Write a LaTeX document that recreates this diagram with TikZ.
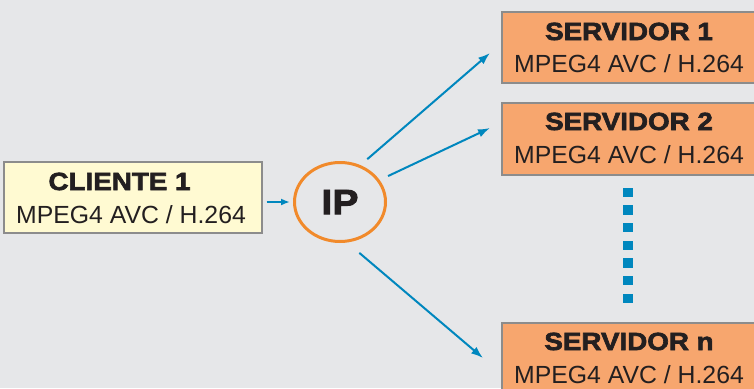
\documentclass[tikz,border=0pt]{standalone}
\usepackage{fontspec}
\setmainfont{Liberation Sans}
\newfontfamily\headfont[FakeStretch=1.12,FakeBold=2.6]{Liberation Sans Bold}
\usetikzlibrary{arrows.meta}
\usetikzlibrary{shapes.geometric}
\definecolor{bg}{RGB}{230,231,233}
\definecolor{client-fill}{RGB}{255,250,210}
\definecolor{server-fill}{RGB}{247,166,110}
\definecolor{frame}{RGB}{140,140,140}
\definecolor{ring}{RGB}{241,138,43}
\definecolor{link}{RGB}{0,135,190}
\definecolor{ink}{RGB}{35,31,32}

\begin{document}
\begin{tikzpicture}[x=1pt, y=-1pt, >={Latex[length=12pt,width=8.5pt]},
  box/.style={rectangle, draw=frame, line width=1.3pt, minimum height=71pt, inner sep=0pt},
  title/.style={anchor=base, text=ink, font=\headfont\fontsize{24.8}{30}\selectfont},
  codec/.style={anchor=base, text=ink, font=\fontsize{24.8}{30}\selectfont},
  flow/.style={->, draw=link, line width=2pt}]

\clip (0,0) rectangle (754,388);
\fill [bg] (0,0) rectangle (754,388);

% client
\node [box, fill=client-fill, minimum width=258pt] (cliente) at (133,197.5) {};
\node [title] (cliente-title) at (119.5,190) {CLIENTE 1};
\node [codec] (cliente-codec) at (131,223) {MPEG4 AVC / H.264};

% servers
\node [box, fill=server-fill, minimum width=254pt] (srv1) at (629,47.5) {};
\node [title] (srv1-title) at (629,40) {SERVIDOR 1};
\node [codec] (srv1-codec) at (629,72) {MPEG4 AVC / H.264};

\node [box, fill=server-fill, minimum width=254pt, minimum height=72pt] (srv2) at (629,139) {};
\node [title] (srv2-title) at (629,130) {SERVIDOR 2};
\node [codec] (srv2-codec) at (629,163) {MPEG4 AVC / H.264};

\node [box, fill=server-fill, minimum width=254pt] (srvn) at (629,358.5) {};
\node [title] (srvn-title) at (629,350) {SERVIDOR n};
\node [codec] (srvn-codec) at (629,383) {MPEG4 AVC / H.264};

% IP cloud
\node [ellipse, draw=ring, line width=3pt, minimum width=91pt, minimum height=79pt,
  text=ink, font=\headfont\fontsize{35}{40}\selectfont] (ip) at (340,202) {IP};

% free ends of the links
\coordinate (to1) at (490,53);
\coordinate (to2) at (490,128);
\coordinate (ton) at (483,358);

\draw [flow, shorten <=4pt, shorten >=3pt, >={Latex[length=9pt,width=7pt]}] (cliente.east |- ip) -- (ip.west);
\draw [flow, shorten <=9pt] (ip.61) -- (to1);
\draw [flow, shorten <=9.3pt] (ip.29) -- (to2);
\draw [flow, shorten <=16pt] (ip.-80.5) -- (ton);

% dots between server 2 and server n
\foreach \i in {0,...,6}
  \fill [link] (623.3,187.6+17.67*\i) rectangle +(9.3,9.3);

\end{tikzpicture}
\end{document}
